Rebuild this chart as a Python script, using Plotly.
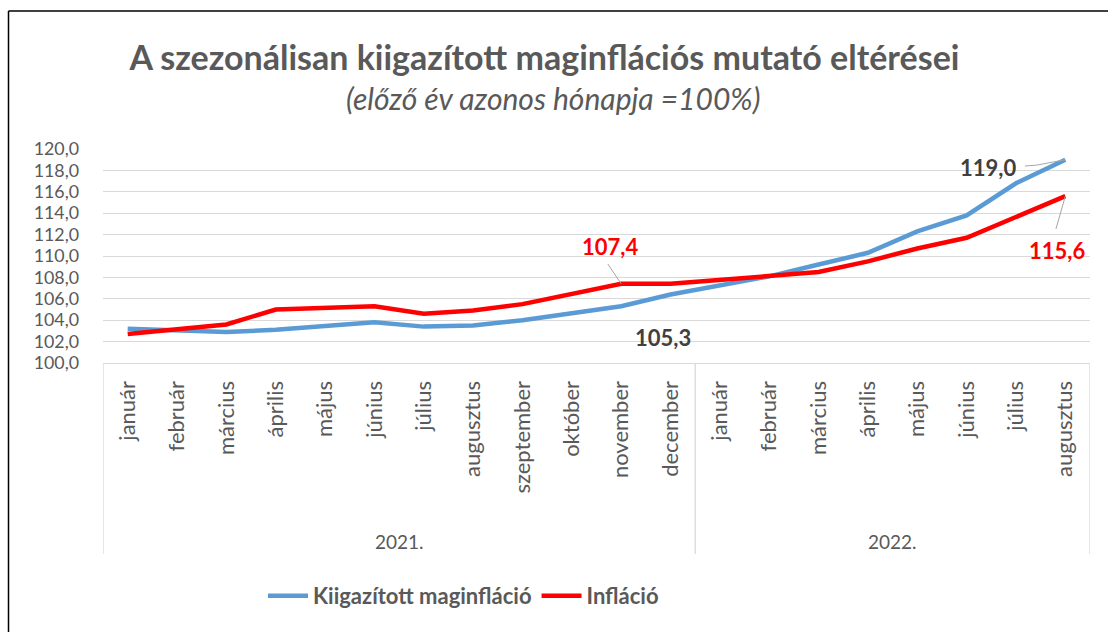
import plotly.graph_objects as go

months = ["január", "február", "március", "április", "május", "június", "július",
          "augusztus", "szeptember", "október", "november", "december",
          "január", "február", "március", "április", "május", "június", "július", "augusztus"]
years = ["2021.", "2022."]
year_counts = [12, 8]

core_name = "Kiigazított maginfláció"
infl_name = "Infláció"
core = [103.2, 103.1, 102.9, 103.1, 103.4, 103.8, 103.4, 103.5, 104.0, 104.6, 105.3, 106.4,
        107.3, 108.1, 109.2, 110.3, 112.3, 113.8, 116.8, 119.0]
infl = [102.7, 103.1, 103.6, 105.0, 105.1, 105.3, 104.6, 104.9, 105.5, 106.5, 107.4, 107.4,
        107.8, 108.2, 108.5, 109.5, 110.7, 111.7, 113.7, 115.6]

title = "A szezonálisan kiigazított maginflációs mutató eltérései"
subtitle = "(előző év azonos hónapja =100%)"

FONT = "Lato"
GREY = "#595959"
GRID = "#d9d9d9"

# plot area in pixels
L, R, T, B = 103, 1090, 149, 363
PW, PH = R - L, B - T

def px(xp):
    return (xp - L) / PW

def py(yp):
    return (B - yp) / PH

x = list(range(len(months)))

fig = go.Figure()
fig.add_trace(go.Scatter(x=x, y=core, mode="lines", name=core_name,
                         line=dict(color="#5b9bd5", width=4.5)))
fig.add_trace(go.Scatter(x=x, y=infl, mode="lines", name=infl_name,
                         line=dict(color="#ff0000", width=4.5)))

def fmt(v):
    return f"{v:.1f}".replace(".", ",")

ann = []
shapes = []
LBL = 22
i_nov = 10
ann.append(dict(x=9.77, y=110.93, text=f"<b>{fmt(infl[i_nov])}</b>", showarrow=False,
                yanchor="middle", font=dict(family=FONT, size=LBL, color="#ff0000")))
shapes.append(dict(type="line", x0=9.73, y0=109.25, x1=i_nov, y1=infl[i_nov],
                   line=dict(color="#a6a6a6", width=1)))
ann.append(dict(x=10.85, y=102.34, text=f"<b>{fmt(core[i_nov])}</b>", showarrow=False,
                yanchor="middle", font=dict(family=FONT, size=LBL, color="#404040")))
i_last = len(months) - 1
ann.append(dict(x=17.43, y=118.29, text=f"<b>{fmt(core[i_last])}</b>", showarrow=False,
                yanchor="middle", font=dict(family=FONT, size=LBL, color="#404040")))
shapes.append(dict(type="path", path=f"M 18.18 118.41 L 18.43 118.5 L {i_last} {core[i_last]}",
                   line=dict(color="#a6a6a6", width=1)))
ann.append(dict(x=18.83, y=110.5, text=f"<b>{fmt(infl[i_last])}</b>", showarrow=False,
                yanchor="middle", font=dict(family=FONT, size=LBL, color="#ff0000")))
shapes.append(dict(type="line", x0=18.81, y0=112.52, x1=i_last, y1=infl[i_last],
                   line=dict(color="#a6a6a6", width=1)))

# year group labels and dividers
start = -0.5
bounds = [start]
for yname, cnt in zip(years, year_counts):
    ann.append(dict(x=start + cnt / 2, y=py(541), xref="x", yref="paper", text=yname,
                    showarrow=False, yanchor="middle",
                    font=dict(family=FONT, size=19, color=GREY)))
    start += cnt
    bounds.append(start)
for b in bounds:
    shapes.append(dict(type="line", xref="x", yref="paper", x0=b, x1=b, y0=0, y1=py(554),
                       line=dict(color=GRID, width=1.3)))

# subtitle
ann.append(dict(x=px(552.5), xref="paper", y=py(98), yref="paper", text=f"<i>{subtitle}</i>",
                showarrow=False, yanchor="middle", xanchor="center",
                font=dict(family=FONT, size=30, color=GREY)))

# outer border (black, top and left)
shapes.append(dict(type="line", xref="paper", yref="paper", x0=px(8.5), x1=px(1115),
                   y0=py(11), y1=py(11), line=dict(color="black", width=1.5)))
shapes.append(dict(type="line", xref="paper", yref="paper", x0=px(8.5), x1=px(8.5),
                   y0=py(11), y1=py(640), line=dict(color="black", width=1.5)))

fig.update_layout(
    width=1108, height=632,
    margin=dict(l=L, r=1108 - R, t=T, b=632 - B, autoexpand=False),
    plot_bgcolor="white", paper_bgcolor="white",
    separators=", ",
    font=dict(family=FONT, color=GREY),
    title=dict(text=f"<b>{title}</b>", x=544.5 / 1108, xref="container", xanchor="center",
               y=1 - 58 / 632, yanchor="middle", font=dict(family=FONT, size=34, color=GREY)),
    annotations=ann, shapes=shapes,
    showlegend=True,
    legend=dict(orientation="h", x=px(263), xanchor="left",
                y=py(575), yanchor="top",
                font=dict(family=FONT, size=22, color=GREY, weight="bold"),
                itemwidth=40, tracegroupgap=0),
    xaxis=dict(range=[-0.5, len(months) - 0.5], tickmode="array", tickvals=x, ticktext=months,
               tickangle=-90, tickfont=dict(family=FONT, size=22, color=GREY),
               showgrid=False, zeroline=False, showline=True, linecolor=GRID, linewidth=1.3,
               ticks="", ticklabelstandoff=8),
    yaxis=dict(range=[100, 120], dtick=2, tickformat=".1f", showgrid=True, gridcolor=GRID,
               gridwidth=1.3, zeroline=False, showline=False, ticks="",
               tickfont=dict(family=FONT, size=17.8, color=GREY), ticklabelstandoff=23),
)

fig.write_html("out.html", config={"displayModeBar": False},
               post_script="document.body.style.margin='0';document.body.style.padding='0';")
